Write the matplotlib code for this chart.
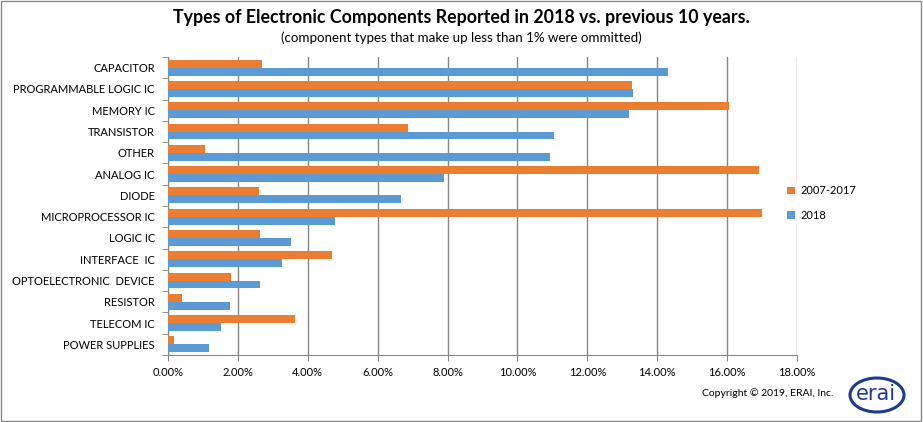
import numpy as np
import matplotlib
matplotlib.use("Agg")
import matplotlib.pyplot as plt
from matplotlib.patches import Rectangle, Ellipse
from matplotlib.ticker import FuncFormatter

categories = [
    "CAPACITOR", "PROGRAMMABLE LOGIC IC", "MEMORY IC", "TRANSISTOR", "OTHER",
    "ANALOG IC", "DIODE", "MICROPROCESSOR IC", "LOGIC IC", "INTERFACE  IC",
    "OPTOELECTRONIC  DEVICE", "RESISTOR", "TELECOM IC", "POWER SUPPLIES",
]
prev_10y = [2.70, 13.27, 16.04, 6.87, 1.06, 16.90, 2.61, 17.01, 2.64, 4.70,
            1.81, 0.41, 3.64, 0.16]
y2018 = [14.30, 13.30, 13.19, 11.04, 10.93, 7.90, 6.67, 4.79, 3.53, 3.27,
         2.64, 1.76, 1.53, 1.16]
xticks = [0, 2, 4, 6, 8, 10, 12, 14, 16, 18]

orange = "#ED7D31"
blue = "#5B9BD5"
grid_c = "#868686"
logo_c = "#1F3A93"

plt.rcParams["font.family"] = ["Lato", "DejaVu Sans"]

fig = plt.figure(figsize=(9.23, 4.22), dpi=100)
ax = fig.add_axes([168 / 923, 1 - 355 / 422, (797 - 168) / 923, (355 - 57) / 422])

n = len(categories)
y = np.arange(n)
h = 0.37
ax.barh(y - h / 2, prev_10y, height=h, color=orange, label="2007-2017", zorder=3)
ax.barh(y + h / 2, y2018, height=h, color=blue, label="2018", zorder=3)

ax.set_ylim(n - 0.5, -0.5)
ax.set_xlim(0, 18)
ax.set_xticks(xticks)
ax.xaxis.set_major_formatter(FuncFormatter(lambda v, p: f"{v:.2f}%"))
ax.set_yticks(y)
ax.set_yticklabels(categories)
ax.set_yticks(np.arange(n + 1) - 0.5, minor=True)
ax.tick_params(axis="y", which="major", length=0, pad=9.5, labelsize=8.0)
ax.tick_params(axis="y", which="minor", length=4, color=grid_c)
ax.tick_params(axis="x", length=4, color=grid_c, labelsize=8.0, pad=5)

ax.grid(axis="x", color=grid_c, linewidth=1, zorder=0)
for s in ["top", "right"]:
    ax.spines[s].set_visible(False)
for s in ["left", "bottom"]:
    ax.spines[s].set_color(grid_c)
ax.set_axisbelow(True)

leg = ax.legend(loc="center left", bbox_to_anchor=(0.97, 0.51), frameon=True,
                fontsize=8.0, handlelength=0.7, handleheight=0.7,
                labelspacing=1.2, borderpad=0.3, handletextpad=0.5)
leg.get_frame().set_edgecolor("none")
leg.get_frame().set_facecolor("white")
leg.get_frame().set_alpha(1)

fig.text(0.5, 1 - 18 / 422, "Types of Electronic Components Reported in 2018 vs. previous 10 years.",
         ha="center", va="center", fontsize=12.8, fontweight="bold")
fig.text(0.5, 1 - 38 / 422, "(component types that make up less than 1% were ommitted)",
         ha="center", va="center", fontsize=9.6)
fig.text(833 / 923, 1 - 393 / 422, "Copyright \u00a9 2019, ERAI, Inc.",
         ha="right", va="center", fontsize=7.5)

# logo
fig.patches.append(Ellipse((877 / 923, 1 - 395 / 422), 54 / 923, 34 / 422,
                           transform=fig.transFigure, fill=False,
                           edgecolor=logo_c, linewidth=2.2))
fig.text(876 / 923, 1 - 394 / 422, "erai", ha="center", va="center",
         fontsize=15, color=logo_c, family=["DejaVu Sans"])

fig.patches.append(Rectangle((0.001, 0.002), 0.997, 0.995, transform=fig.transFigure,
                             fill=False, edgecolor="#888888", linewidth=1))

fig.savefig("out.png", dpi=100)
